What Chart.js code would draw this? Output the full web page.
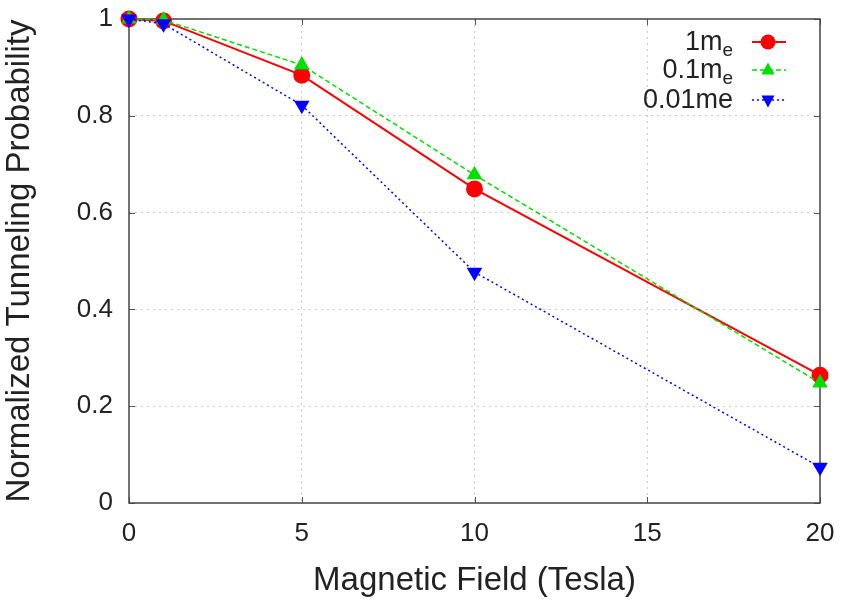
<!DOCTYPE html>
<html>
<head>
<meta charset="utf-8">
<script src="https://cdn.jsdelivr.net/npm/chart.js@4.4.0/dist/chart.umd.min.js"></script>
<style>
html,body{margin:0;padding:0;background:#fff;}
#wrap{position:relative;width:845px;height:601px;}
</style>
</head>
<body>
<div id="wrap"><canvas id="c" width="845" height="601"></canvas></div>
<script>
const fieldTesla = [0, 1, 5, 10, 20];
const prob1me = [1.0, 0.996, 0.884, 0.649, 0.264];
const prob01me = [1.0, 0.998, 0.905, 0.678, 0.248];
const prob001me = [1.0, 0.99, 0.822, 0.477, 0.074];
const seriesNames = ['1m_e', '0.1m_e', '0.01me'];
const xTicks = [0, 5, 10, 15, 20];
const yTicks = [0, 0.2, 0.4, 0.6, 0.8, 1];

const FONT = '"Liberation Sans", Arial, Helvetica, sans-serif';
const colors = ['#ff0000', '#00e000', '#0000ff'];

function pts(ys){ return fieldTesla.map((x,i)=>({x:x,y:ys[i]})); }

const frameAndTicks = {
  id:'frameTicks',
  beforeDatasetsDraw(chart){
    const {ctx, chartArea:a, scales} = chart;
    ctx.save();
    ctx.strokeStyle = '#555';
    ctx.lineWidth = 1;
    const L = 6;
    ctx.beginPath();
    xTicks.forEach(v=>{
      const px = Math.round(scales.x.getPixelForValue(v))+0.5;
      ctx.moveTo(px, a.bottom); ctx.lineTo(px, a.bottom-L);
      ctx.moveTo(px, a.top); ctx.lineTo(px, a.top+L);
    });
    yTicks.forEach(v=>{
      const py = Math.round(scales.y.getPixelForValue(v))+0.5;
      ctx.moveTo(a.left, py); ctx.lineTo(a.left+L, py);
      ctx.moveTo(a.right, py); ctx.lineTo(a.right-L, py);
    });
    ctx.stroke();
    ctx.strokeStyle = '#444';
    ctx.lineWidth = 1.5;
    ctx.strokeRect(a.left, a.top, a.right-a.left, a.bottom-a.top);
    ctx.restore();
  }
};

const customLegend = {
  id:'customLegend',
  afterDraw(chart){
    const ctx = chart.ctx;
    ctx.save();
    const rows = [42, 70, 100];
    const textRight = 733;
    const x0 = 752, x1 = 786, mx = 768;
    const dashes = [[], [5,3], [2,3]];
    chart.data.datasets.forEach((ds,i)=>{
      const y = rows[i];
      const name = seriesNames[i];
      const parts = name.split('_');
      const main = parts[0], sub = parts[1] || '';
      ctx.fillStyle = '#222';
      ctx.textBaseline = 'alphabetic';
      const mainFont = '27px ' + FONT;
      const subFont = '19px ' + FONT;
      ctx.font = subFont;
      const sw = sub ? ctx.measureText(sub).width : 0;
      ctx.font = mainFont;
      const mw = ctx.measureText(main).width;
      const start = textRight - mw - sw;
      ctx.textAlign = 'left';
      ctx.fillText(main, start, y + 8);
      if (sub){ ctx.font = subFont; ctx.fillText(sub, start+mw, y + 14); }
      ctx.strokeStyle = colors[i];
      ctx.lineWidth = i===0 ? 2 : 1.5;
      ctx.setLineDash(dashes[i]);
      ctx.beginPath(); ctx.moveTo(x0, y); ctx.lineTo(x1, y); ctx.stroke();
      ctx.setLineDash([]);
      ctx.fillStyle = colors[i];
      ctx.beginPath();
      const r = 7.5;
      if (i===0){ ctx.arc(mx, y, r, 0, Math.PI*2); }
      else if (i===1){ ctx.moveTo(mx, y-r); ctx.lineTo(mx+r*0.87, y+r*0.6); ctx.lineTo(mx-r*0.87, y+r*0.6); ctx.closePath(); }
      else { ctx.moveTo(mx, y+r); ctx.lineTo(mx+r*0.87, y-r*0.6); ctx.lineTo(mx-r*0.87, y-r*0.6); ctx.closePath(); }
      ctx.fill();
    });
    ctx.restore();
  }
};

new Chart(document.getElementById('c'), {
  type:'line',
  data:{
    datasets:[
      {label:seriesNames[0], data:pts(prob1me), borderColor:colors[0], backgroundColor:colors[0],
       borderWidth:2, pointStyle:'circle', pointRadius:7.5, pointHoverRadius:7.5, borderDash:[], order:3, clip:false},
      {label:seriesNames[1], data:pts(prob01me), borderColor:colors[1], backgroundColor:colors[1],
       borderWidth:1.5, pointStyle:'triangle', pointRadius:7.5, pointHoverRadius:7.5, borderDash:[5,3], order:2, clip:false},
      {label:seriesNames[2], data:pts(prob001me), borderColor:colors[2], backgroundColor:colors[2],
       borderWidth:1.5, pointStyle:'triangle', rotation:180, pointRadius:7.5, pointHoverRadius:7.5, borderDash:[2,3], order:1, clip:false}
    ]
  },
  options:{
    responsive:false,
    animation:false,
    devicePixelRatio:1,
    layout:{padding:{left:0, right:25, top:19, bottom:0}},
    plugins:{legend:{display:false}, tooltip:{enabled:false}},
    elements:{line:{tension:0}, point:{borderWidth:0}},
    scales:{
      x:{
        type:'linear', min:0, max:20,
        afterBuildTicks(s){ s.ticks = xTicks.map(v=>({value:v})); },
        ticks:{font:{family:FONT, size:26}, color:'#222', padding:15, maxRotation:0,
               callback:v=>String(v)},
        grid:{color:(c)=> (c.tick && (c.tick.value===0||c.tick.value===20)) ? 'rgba(0,0,0,0)' : '#cccccc',
              lineWidth:1, drawTicks:false, tickLength:0},
        border:{display:false, dash:[2,4]},
        title:{display:true, text:'Magnetic Field (Tesla)', font:{family:FONT, size:33}, color:'#222', padding:{top:0,bottom:0}},
        afterFit(s){ s.height = 98; s.paddingLeft = 0; s.paddingRight = 0; }
      },
      y:{
        type:'linear', min:0, max:1,
        afterBuildTicks(s){ s.ticks = yTicks.map(v=>({value:v})); },
        ticks:{font:{family:FONT, size:26}, color:'#222', padding:16,
               callback:v=>String(Math.round(v*10)/10)},
        grid:{color:(c)=> (c.tick && (c.tick.value===0||c.tick.value===1)) ? 'rgba(0,0,0,0)' : '#cccccc',
              lineWidth:1, drawTicks:false, tickLength:0},
        border:{display:false, dash:[2,4]},
        title:{display:true, text:'Normalized Tunneling Probability', font:{family:FONT, size:33}, color:'#222', padding:{top:0,bottom:2}},
        afterFit(s){ s.width = 129; s.paddingTop = 0; s.paddingBottom = 0; }
      }
    }
  },
  plugins:[frameAndTicks, customLegend]
});
</script>
</body>
</html>
